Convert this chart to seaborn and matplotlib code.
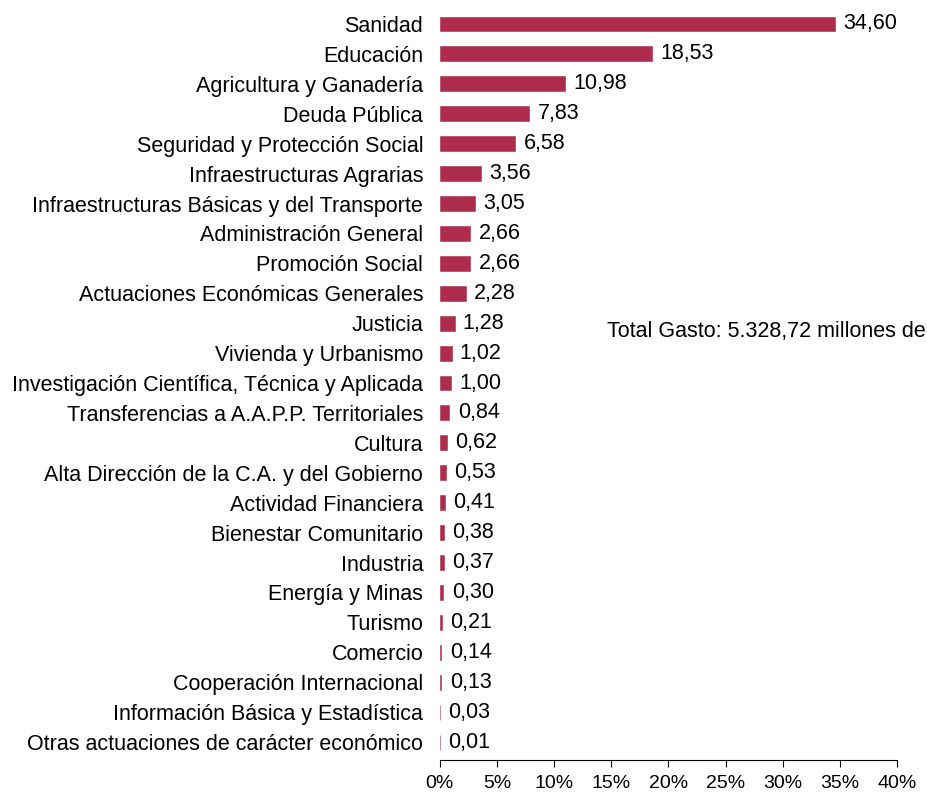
import matplotlib
matplotlib.use("Agg")
import matplotlib.pyplot as plt
import seaborn as sns
import pandas as pd

categorias = [
    "Sanidad", "Educación", "Agricultura y Ganadería", "Deuda Pública",
    "Seguridad y Protección Social", "Infraestructuras Agrarias",
    "Infraestructuras Básicas y del Transporte", "Administración General",
    "Promoción Social", "Actuaciones Económicas Generales", "Justicia",
    "Vivienda y Urbanismo", "Investigación Científica, Técnica y Aplicada",
    "Transferencias a A.A.P.P. Territoriales", "Cultura",
    "Alta Dirección de la C.A. y del Gobierno", "Actividad Financiera",
    "Bienestar Comunitario", "Industria", "Energía y Minas", "Turismo",
    "Comercio", "Cooperación Internacional", "Información Básica y Estadística",
    "Otras actuaciones de carácter económico",
]
porcentajes = [
    34.60, 18.53, 10.98, 7.83, 6.58, 3.56, 3.05, 2.66, 2.66, 2.28, 1.28,
    1.02, 1.00, 0.84, 0.62, 0.53, 0.41, 0.38, 0.37, 0.30, 0.21, 0.14,
    0.13, 0.03, 0.01,
]
ticks_x = [0, 5, 10, 15, 20, 25, 30, 35, 40]
nota_total = "Total Gasto: 5.328,72 millones de"

sns.set_theme(style="white")
plt.rcParams["font.family"] = ["Liberation Sans", "DejaVu Sans"]

df = pd.DataFrame({"categoria": categorias, "porcentaje": porcentajes})

fig = plt.figure(figsize=(9.28, 7.92), dpi=100)
ax = fig.add_axes([0.474, 0.0404, 0.4926, 0.9482])

sns.barplot(data=df, x="porcentaje", y="categoria", orient="h",
            color="#AD2B4B", saturation=1, width=0.5, linewidth=0, ax=ax)
# keep very small bars visible as thin strokes
for barra in ax.patches:
    barra.set_edgecolor("#AD2B4B")
    barra.set_linewidth(0.4)

etiquetas = [f"{v:.2f}".replace(".", ",") for v in porcentajes]
ax.bar_label(ax.containers[0], labels=etiquetas, padding=6, fontsize=15.5,
             color="black")

ax.set_xlim(0, 40)
ax.set_ylim(len(categorias) - 0.4, -0.5)
ax.set_xticks(ticks_x)
ax.set_xticklabels([f"{t}%" for t in ticks_x], fontsize=14)
ax.tick_params(axis="y", labelsize=15.5, length=0, pad=12, colors="black")
ax.tick_params(axis="x", direction="out", length=5, width=0.8,
               colors="black", pad=6, bottom=True)
ax.set_xlabel("")
ax.set_ylabel("")
for lado in ["top", "right", "left"]:
    ax.spines[lado].set_visible(False)
ax.spines["bottom"].set_color("black")
ax.spines["bottom"].set_linewidth(0.8)

fig.text(607 / 928, 1 - 331 / 792, nota_total, fontsize=15.5,
         ha="left", va="center", color="black")

fig.savefig("out.png", dpi=100)
